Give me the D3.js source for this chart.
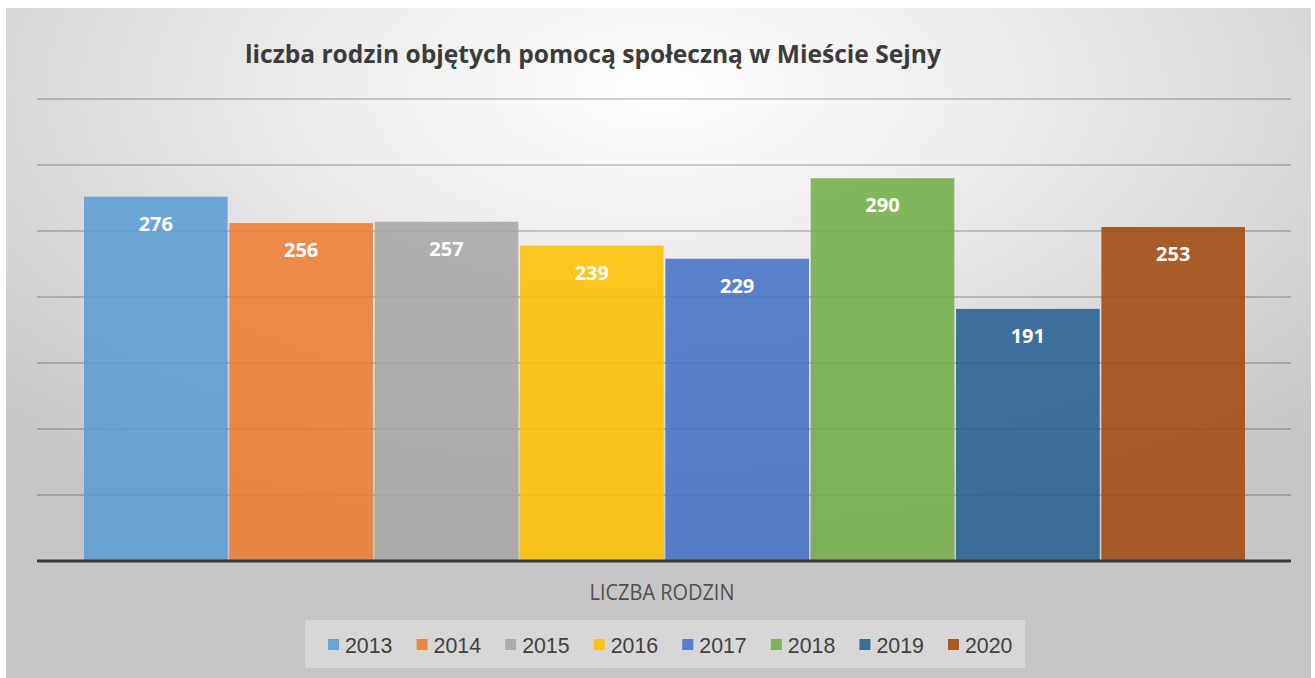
<!DOCTYPE html>
<html>
<head>
<meta charset="utf-8">
<script src="https://cdn.jsdelivr.net/npm/d3@7"></script>
<style>
  html, body { margin: 0; padding: 0; background: #ffffff; }
  svg { display: block; }
</style>
</head>
<body>
<svg id="chart" width="1315" height="678"></svg>
<script>
// Number of families receiving social assistance, by year
const years  = ["2013", "2014", "2015", "2016", "2017", "2018", "2019", "2020"];
const values = [276, 256, 257, 239, 229, 290, 191, 253];
const colors = ["#5B9BD5", "#ED7D31", "#A5A5A5", "#FFC000", "#4472C4", "#70AD47", "#255E91", "#9E480E"];
const gridTicks = [0, 50, 100, 150, 200, 250, 300, 350];

const title = "liczba rodzin objętych pomocą społeczną w Mieście Sejny";
const categoryLabel = "LICZBA RODZIN";

const svg = d3.select("#chart");

// background panel with a soft radial shading
const defs = svg.append("defs");
const grad = defs.append("radialGradient")
  .attr("id", "bg")
  .attr("cx", "50%").attr("cy", "12%")
  .attr("r", "72%")
  .attr("fx", "50%").attr("fy", "12%");
grad.append("stop").attr("offset", "0%").attr("stop-color", "#ffffff");
grad.append("stop").attr("offset", "35%").attr("stop-color", "#ededed");
grad.append("stop").attr("offset", "100%").attr("stop-color", "#c6c6c6");

svg.append("rect")
  .attr("x", 6).attr("y", 8)
  .attr("width", 1305).attr("height", 670)
  .attr("fill", "url(#bg)");

// plot geometry
const plotLeft = 37, plotRight = 1291;
const barsLeft = 84, barsRight = 1245;

const y = d3.scaleLinear().domain([0, 350]).range([561, 99]);
const x = d3.scaleBand().domain(years).range([barsLeft, barsRight]).paddingInner(0.012).paddingOuter(0);

// gridlines
svg.append("g")
  .selectAll("line")
  .data(gridTicks.filter(d => d > 0))
  .join("line")
  .attr("x1", plotLeft).attr("x2", plotRight)
  .attr("y1", d => y(d)).attr("y2", d => y(d))
  .attr("stroke", "#000000")
  .attr("stroke-opacity", 0.18)
  .attr("stroke-width", 2);

// bars
svg.append("g")
  .selectAll("rect")
  .data(years)
  .join("rect")
  .attr("x", d => x(d))
  .attr("y", (d, i) => y(values[i]))
  .attr("width", x.bandwidth())
  .attr("height", (d, i) => y(0) - y(values[i]))
  .attr("fill", (d, i) => colors[i])
  .attr("fill-opacity", 0.87);

// value labels inside bars
svg.append("g")
  .selectAll("text")
  .data(years)
  .join("text")
  .attr("x", d => x(d) + x.bandwidth() / 2)
  .attr("y", (d, i) => y(values[i]) + 34)
  .attr("text-anchor", "middle")
  .attr("font-family", "'Open Sans', sans-serif")
  .attr("font-weight", "bold")
  .attr("font-size", 20)
  .attr("fill", "#ffffff")
  .text((d, i) => values[i]);

// category axis line
svg.append("line")
  .attr("x1", plotLeft).attr("x2", plotRight)
  .attr("y1", y(0)).attr("y2", y(0))
  .attr("stroke", "#3a3a3a")
  .attr("stroke-width", 3);

// title
svg.append("text")
  .attr("x", 593).attr("y", 63)
  .attr("text-anchor", "middle")
  .attr("font-family", "'Open Sans', sans-serif")
  .attr("font-weight", "bold")
  .attr("font-size", 24.6)
  .attr("fill", "#3b3b3b")
  .text(title);

// category label
svg.append("text")
  .attr("transform", "translate(662,600) scale(0.95,1)")
  .attr("text-anchor", "middle")
  .attr("font-family", "'Open Sans', sans-serif")
  .attr("font-size", 21)
  .attr("fill", "#505050")
  .text(categoryLabel);

// legend
const legend = svg.append("g");
legend.append("rect")
  .attr("x", 305).attr("y", 620)
  .attr("width", 720).attr("height", 48)
  .attr("fill", "#ffffff").attr("fill-opacity", 0.3);

const legendX = d3.scalePoint().domain(years).range([328, 948]);
const item = legend.selectAll("g.item")
  .data(years)
  .join("g")
  .attr("class", "item")
  .attr("transform", d => `translate(${legendX(d)},645)`);
item.append("rect")
  .attr("x", 0).attr("y", -6)
  .attr("width", 11).attr("height", 11)
  .attr("fill", (d, i) => colors[i])
  .attr("fill-opacity", 0.87);
item.append("text")
  .attr("transform", "translate(17,8) scale(0.97,1)")
  .attr("font-family", "'Liberation Sans', Arial, sans-serif")
  .attr("font-size", 22)
  .attr("fill", "#404040")
  .text(d => d);
</script>
</body>
</html>
